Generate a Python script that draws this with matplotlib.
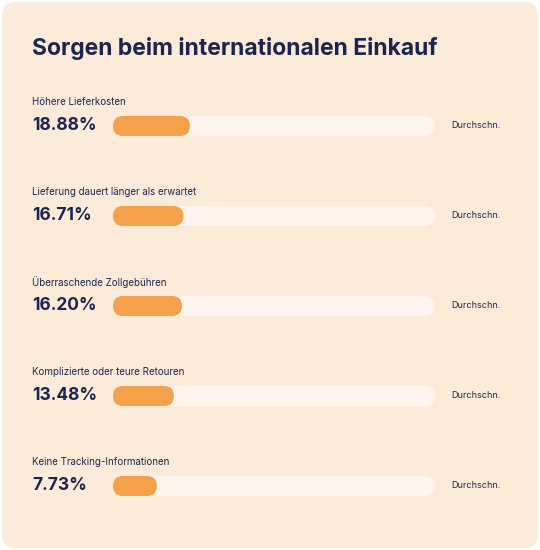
import matplotlib.pyplot as plt
from matplotlib.patches import FancyBboxPatch

# Data
categories = [
    "Höhere Lieferkosten",
    "Lieferung dauert länger als erwartet",
    "Überraschende Zollgebühren",
    "Komplizierte oder teure Retouren",
    "Keine Tracking-Informationen",
]
values = [18.88, 16.71, 16.20, 13.48, 7.73]
title = "Sorgen beim internationalen Einkauf"
avg_label = "Durchschn."

NAVY = "#1B2550"
ORANGE = "#F5A04A"
TRACK = "#FDF5EE"
CARD = "#FDEBDA"

plt.rcParams["font.family"] = ["Inter", "DejaVu Sans"]

fig = plt.figure(figsize=(5.4, 5.5), dpi=100)
ax = fig.add_axes([0, 0, 1, 1])
ax.set_xlim(0, 540)
ax.set_ylim(550, 0)
ax.axis("off")

card = FancyBboxPatch((2, 2), 536, 546, boxstyle="round,pad=0,rounding_size=14",
                      fc=CARD, ec="none")
ax.add_patch(card)

ax.text(32, 48, title, fontsize=16.5, fontweight="bold", color=NAVY, va="center")

track_x0, track_x1 = 113, 435
bar_h = 20
for i, (cat, v) in enumerate(zip(categories, values)):
    y = 126 + i * 90
    ax.text(32, y - 24, cat, fontsize=7, color=NAVY, va="center")
    ax.text(32, y, f"{v:.2f}%", fontsize=12.5, fontweight="bold", color=NAVY, va="center")
    r = bar_h / 2
    ax.add_patch(FancyBboxPatch((track_x0 + r, y), track_x1 - track_x0 - 2 * r, 0,
                                boxstyle=f"round,pad={r}", fc=TRACK, ec="none"))
    w = 21 + 2.96 * v
    ax.add_patch(FancyBboxPatch((track_x0 + r, y), w - 2 * r, 0,
                                boxstyle=f"round,pad={r}", fc=ORANGE, ec="none"))
    ax.text(451, y, avg_label, fontsize=6.5, color=NAVY, va="center")

fig.savefig("out.png", dpi=100)
